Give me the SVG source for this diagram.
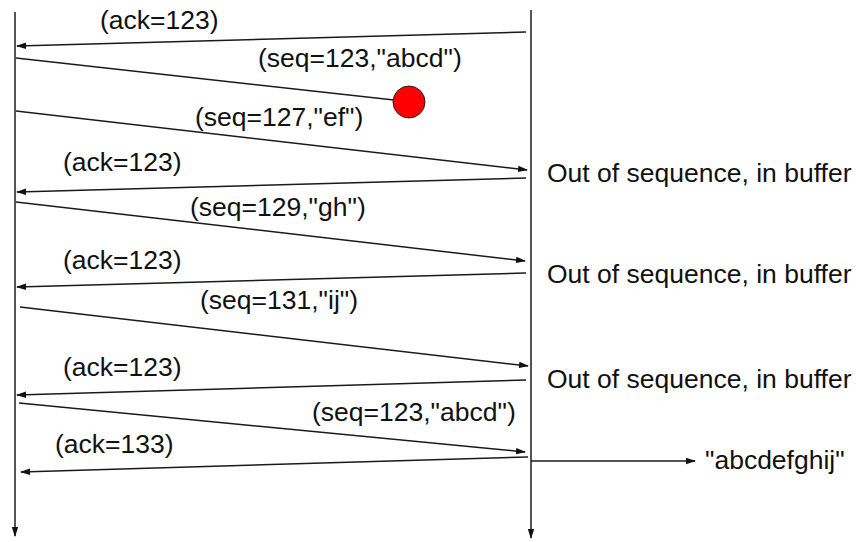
<svg xmlns="http://www.w3.org/2000/svg" width="857" height="542" viewBox="0 0 857 542">
<defs>
<marker id="ah" markerWidth="10" markerHeight="8" refX="9" refY="4" orient="auto" markerUnits="userSpaceOnUse">
<path d="M0,0.8 L10,4 L0,7.2 Z" fill="#111"/>
</marker>
</defs>
<style>
.t{font-family:"Liberation Sans",Arial,sans-serif;font-size:26.5px;fill:#111}
.ln{stroke:#1a1a1a;stroke-width:1.5;fill:none}
.life{stroke:#555;stroke-width:2;fill:none}
</style>
<rect width="857" height="542" fill="#fff"/>
<g id="lifelines">
<line class="life" x1="15" y1="12" x2="15" y2="536" marker-end="url(#ah)"/>
<line class="life" x1="531" y1="10" x2="531" y2="538" marker-end="url(#ah)"/>
</g>
<g id="connectors">
<line class="ln" x1="526" y1="32" x2="17" y2="46" marker-end="url(#ah)"/>
<line class="ln" x1="16" y1="58" x2="394" y2="100"/>
<line class="ln" x1="16" y1="111" x2="527" y2="170" marker-end="url(#ah)"/>
<line class="ln" x1="526" y1="178" x2="17" y2="192" marker-end="url(#ah)"/>
<line class="ln" x1="16" y1="202" x2="525" y2="261" marker-end="url(#ah)"/>
<line class="ln" x1="526" y1="273" x2="17" y2="287" marker-end="url(#ah)"/>
<line class="ln" x1="20" y1="307" x2="528" y2="366" marker-end="url(#ah)"/>
<line class="ln" x1="526" y1="380" x2="17" y2="395" marker-end="url(#ah)"/>
<line class="ln" x1="19" y1="403" x2="525" y2="452" marker-end="url(#ah)"/>
<line class="ln" x1="528" y1="457" x2="21" y2="472" marker-end="url(#ah)"/>
<line class="ln" x1="531" y1="461" x2="695" y2="461" marker-end="url(#ah)"/>
</g>
<g id="loss">
<circle cx="409" cy="102" r="16" fill="#f00" stroke="#222" stroke-width="1"/>
</g>
<g id="labels">
<text class="t" x="100" y="29">(ack=123)</text>
<text class="t" x="258" y="67">(seq=123,"abcd")</text>
<text class="t" x="195" y="126">(seq=127,"ef")</text>
<text class="t" x="63" y="171">(ack=123)</text>
<text class="t" x="547" y="182">Out of sequence, in buffer</text>
<text class="t" x="190" y="216">(seq=129,"gh")</text>
<text class="t" x="63" y="269">(ack=123)</text>
<text class="t" x="547" y="283">Out of sequence, in buffer</text>
<text class="t" x="200" y="309">(seq=131,"ij")</text>
<text class="t" x="63" y="376">(ack=123)</text>
<text class="t" x="547" y="388">Out of sequence, in buffer</text>
<text class="t" x="312" y="421">(seq=123,"abcd")</text>
<text class="t" x="55" y="453">(ack=133)</text>
<text class="t" x="705" y="469">"abcdefghij"</text>
</g>
</svg>
